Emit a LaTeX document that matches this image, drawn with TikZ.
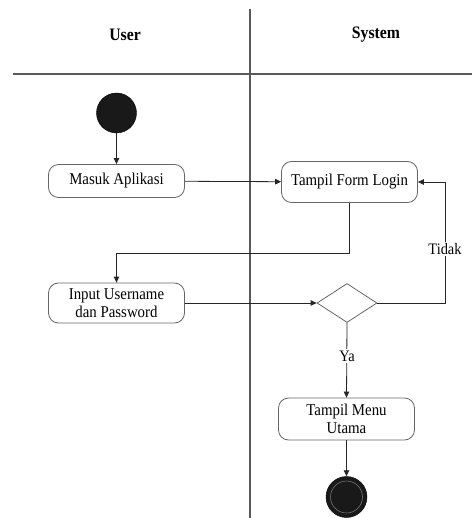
\documentclass[tikz,border=0pt]{standalone}
\usepackage{fontspec}
\setmainfont{Liberation Serif}
\newfontfamily\labfont[FakeStretch=0.9]{Liberation Serif}
\usetikzlibrary{shapes.geometric,arrows.meta}
\tikzset{
  lane/.style={draw=black!65, line width=1.1pt},
  lanehead/.style={font=\labfont\fontsize{17.5}{20}\selectfont\bfseries, text=black},
  action/.style={draw=black!60, line width=0.8pt, rounded corners=10pt, fill=white,
    minimum width=136pt, align=center, inner sep=2pt,
    font=\labfont\fontsize{16.5}{18.5}\selectfont},
  decision/.style={diamond, draw=black!60, line width=0.8pt, fill=white,
    minimum width=60pt, minimum height=39pt, inner sep=0pt},
  startnode/.style={circle, fill=black!90, draw=black, minimum size=40pt, inner sep=0pt},
  endnode/.style={circle, fill=black!90, draw=black, minimum size=41pt, inner sep=0pt},
  flow/.style={draw=black!85, line width=0.8pt, -{Triangle[length=6pt,width=5.5pt]}},
  link/.style={draw=black!85, line width=0.8pt},
  guard/.style={fill=white, inner sep=1.5pt, font=\labfont\fontsize{16}{18}\selectfont}
}
\begin{document}
\begin{tikzpicture}[x=1pt, y=-1pt]
  \useasboundingbox (0,0) rectangle (472,518);

  % swimlane frame
  \draw[lane] (13,74) -- (472,74);
  \draw[lane] (250,9) -- (250,518);
  \node[lanehead] (hUser) at (125,35) {User};
  \node[lanehead] (hSys) at (376,35) {System};

  % User lane
  \node[startnode] (start) at (116.5,113) {};
  \node[action, minimum height=33pt] (masuk) at (116.5,181) {Masuk Aplikasi};
  \node[action, minimum height=40pt] (input) at (116.5,303) {Input Username\\dan Password};

  % System lane
  \node[action, minimum height=41pt] (form) at (349.5,182) {Tampil Form Login};
  \node[decision] (dec) at (347,303) {};
  \node[action, minimum height=42pt] (menu) at (346.5,419) {Tampil Menu\\Utama};
  \node[endnode] (stop) at (346.5,497) {};
  \draw[black!55, line width=0.6pt] (stop.center) circle (16pt);

  % bend points
  \coordinate (c1) at (349,253);
  \coordinate (c2) at (116.5,253);
  \coordinate (c3) at (445,303);
  \coordinate (c4) at (445,182);

  % control flow
  \draw[flow] (start) -- (masuk);
  \draw[flow] (masuk) -- (form);
  \draw[flow] (form.south -| c1) -- (c1) -- (c2) -- (input);
  \draw[flow] (input) -- (dec);
  \draw[flow] (dec.east) -- (c3) -- (c4) -- (form.east);
  \draw[flow] (dec.south) -- (menu.north);
  \draw[flow] (menu) -- (stop);

  % guards
  \node[guard] (tidak) at (445,249) {Tidak};
  \node[guard] (ya) at (347,356) {Ya};
\end{tikzpicture}
\end{document}
